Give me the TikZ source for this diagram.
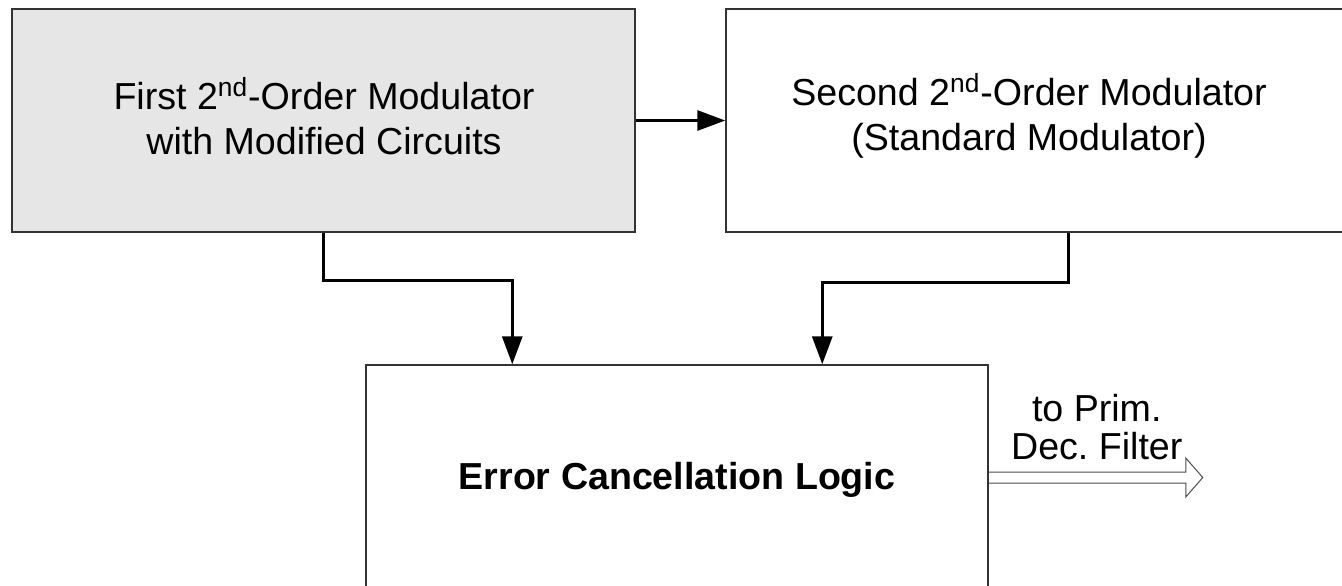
\documentclass[tikz,border=0pt]{standalone}
\usepackage{fontspec}
\setmainfont{Liberation Sans}
\usetikzlibrary{arrows.meta,calc}
\definecolor{boxfill}{HTML}{E6E6E6}
\definecolor{edge}{HTML}{333333}
\frenchspacing
\begin{document}
\begin{tikzpicture}[x=0.5pt,y=-0.5pt,
  font=\fontsize{18.8pt}{22.5pt}\selectfont,
  block/.style={draw=edge,line width=0.75pt,inner sep=0pt},
  txt/.style={align=center,inner sep=0pt},
  flow/.style={draw=black,line width=1.5pt,line join=miter,
    -{Triangle[length=14pt,width=10pt]}},
  outarrow/.style={draw=black!70,line width=0.5pt,line join=miter}]
  \useasboundingbox (0,0) rectangle (1342,585);
  \clip (0,0) rectangle (1342,585);

  % first modulator (shaded)
  \node[block,fill=boxfill,minimum width=311.5pt,minimum height=111.5pt]
    (mod1) at (323.5,120.5) {};
  \node[txt] (mod1txt) at (324,116)
    {First 2\textsuperscript{nd}-Order Modulator\\with Modified Circuits};

  % second modulator, running off the right side
  \node[block,fill=white,minimum width=337pt,minimum height=111.5pt]
    (mod2) at (1063,120.5) {};
  \node[txt] (mod2txt) at (1029,116)
    {Second 2\textsuperscript{nd}-Order Modulator\\(Standard Modulator)};

  % error cancellation block, running off the bottom
  \node[block,fill=white,minimum width=311pt,minimum height=112pt]
    (ecl) at (677,477) {};
  \node[txt] (ecltxt) at (677,480) {\bfseries Error Cancellation Logic};

  % connectors
  \draw[flow] (mod1.east) -- (mod2.west);
  \draw[flow] (mod1.south) -- ++(0,48) -| ($(ecl.north west)+(147,0)$);
  \draw[flow] ($(mod2.south west)+(343,0)$) -- ++(0,50)
    -| ($(ecl.north west)+(457,0)$);

  % hollow output arrow
  \coordinate (outtip) at ($(ecl.east)+(214,0.5)$);
  \draw[outarrow] ($(ecl.east)+(0,-5)$) -- ($(outtip)+(-17,-5.5)$)
    -- ($(outtip)+(-17,-19.5)$) -- (outtip) -- ($(outtip)+(-17,19.5)$)
    -- ($(outtip)+(-17,5.5)$) -- ($(ecl.east)+(0,6)$);
  \node[txt,font=\fontsize{18.8pt}{19pt}\selectfont] (outlbl)
    at ($(ecl.east)+(108,-50)$) {to Prim.\\Dec. Filter};
\end{tikzpicture}
\end{document}
